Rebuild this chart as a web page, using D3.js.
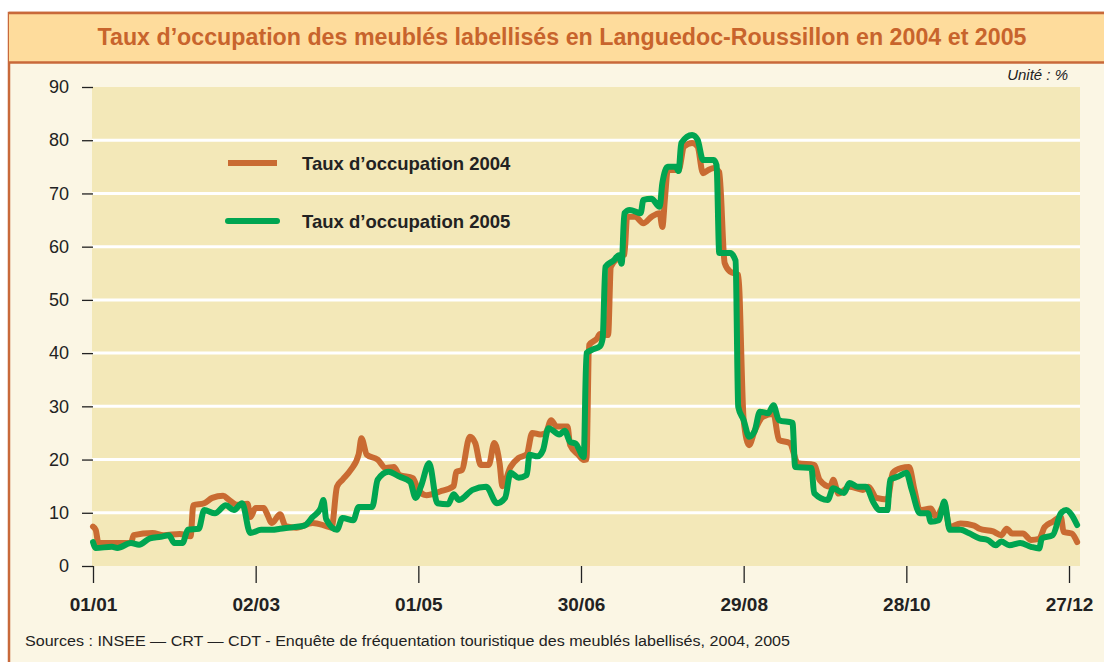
<!DOCTYPE html>
<html>
<head>
<meta charset="utf-8"/>
<title>Taux d'occupation</title>
<script src="https://cdn.jsdelivr.net/npm/d3@7"></script>
<style>
  body { margin:0; background:#fff; }
  svg text { font-family: "Liberation Sans", Arial, sans-serif; }
</style>
</head>
<body>
<div id="chart"></div>
<script>
// data (day of year -> %)
var days2004 = [0,1,2,8,14,15,22,26,32,36,37,41,44,48,50,53,57,58,60,63,64,66,69,71,75,81,86,88,90,92,95,98,99,101,105,108,111,113,118,120,123,128,133,134,136,139,141,143,146,148,150,151,154,157,160,162,165,167,169,171,175,176,179,181,182,183,186,187,190,191,194,196,197,200,203,206,209,210,211,212,216,218,221,223,225,227,229,231,233,235,238,240,242,244,247,251,253,257,260,266,268,272,273,275,279,284,286,289,293,295,298,301,303,305,309,311,314,316,320,325,327,332,335,337,339,343,346,349,351,354,357,358,361,363];
var vals2004 = [7.4,6.8,4.3,4.3,4.3,5.8,6.2,5.8,6.0,5.6,11.4,11.8,12.8,13.2,12.5,11.5,11.7,9.2,10.9,10.9,10.0,8.1,9.7,7.5,7.2,8.1,7.5,7.2,14.9,16.2,18.0,21,24,20.9,20,18.4,18.6,17.1,16.5,14.3,13.3,14,15,17.7,18,24.3,23.1,19,19,23.1,19.2,15,18.6,20.3,21,25,24.7,25,27.4,26.2,26.2,22.7,20.9,19.9,20.0,41.5,42.8,43.6,43.4,56.2,58,58.5,65.6,65.6,64.4,65.6,66.3,63.7,69.3,74.4,74.4,78.8,79.5,78.8,73.8,74.4,74.8,74,56.9,55.3,54.7,27.4,22.7,25.3,28,28.6,23.7,23.1,19.3,19,16.2,14.9,16.2,13.6,14.9,14.3,14.9,12.8,12.5,17.5,18.4,18.6,14.3,10.5,10.8,9.2,11.4,7.3,8,7.6,7,6.5,5.8,7,6.1,6.1,4.9,5.1,7.3,8.3,9.2,6.4,6.1,4.5];

var days2005 = [0,1,7,9,14,17,21,25,28,30,33,35,39,41,45,49,52,55,58,62,66,69,74,78,81,84,85,86,90,92,96,98,103,105,109,113,117,119,121,124,127,131,133,135,140,145,149,152,154,157,160,161,164,166,168,172,174,176,178,181,182,184,187,188,189,192,194,195,196,198,202,203,206,209,210,212,215,216,217,221,223,225,229,230,231,235,237,238,240,242,244,246,249,251,253,258,259,265,266,271,273,277,279,282,285,288,290,293,294,297,300,302,305,308,309,312,314,316,320,323,327,330,333,335,338,342,346,349,350,354,357,359,361,363];
var vals2005 = [4.5,3.4,3.6,3.4,4.3,4.0,5.2,5.5,5.8,4.3,4.3,6.8,7.0,10.5,9.9,11.4,10.5,11.8,6.2,6.8,6.8,7.0,7.3,7.6,9.2,10.9,12.4,8.8,6.8,9.0,8.6,11.1,11.1,16.2,17.7,16.8,15.8,12.8,15,19.3,11.8,11.6,13.5,12.4,14.3,14.9,11.8,12.8,17.5,16.6,17.1,20.9,20.6,21.8,25.9,24.7,25.4,23.3,23,20.5,40,40.6,41.3,42.8,56.2,57.4,58.4,56.8,66.3,66.9,66.3,68.8,69,67.5,71.9,75,75,74.2,79.5,81,80.1,76.3,76.3,75.3,58.8,58.8,57.4,29.9,27.4,24.3,25.3,29,28.7,30.2,27.4,26.9,18.6,18.4,13.7,12.4,14.6,13.7,15.6,14.9,14.9,11.8,10.5,10.5,16.2,16.8,17.5,14.3,9.9,9.9,8.3,8.6,12.1,6.8,6.8,6.2,5.2,4.9,3.9,4.6,3.9,4.3,3.6,3.3,5.2,5.8,9.9,10.5,9.6,7.7];

var tickDays = [0,60,120,180,240,300,360];
var tickLabels = ["01/01","02/03","01/05","30/06","29/08","28/10","27/12"];
var yTicks = [0,10,20,30,40,50,60,70,80,90];
var seriesNames = ["Taux d\u2019occupation 2004","Taux d\u2019occupation 2005"];
var seriesColors = ["#c96b32","#00a551"];

var W = 1104, H = 662;
var svg = d3.select("#chart").append("svg").attr("width", W).attr("height", H);

// frame
svg.append("rect").attr("x",9).attr("y",13).attr("width",1100).attr("height",660)
   .attr("fill","#fbf6e4").attr("stroke","#c8693a").attr("stroke-width",2.5);
svg.append("rect").attr("x",9).attr("y",13).attr("width",1100).attr("height",49)
   .attr("fill","#fedc9c");
svg.append("line").attr("x1",9).attr("x2",1104).attr("y1",62.5).attr("y2",62.5)
   .attr("stroke","#c8693a").attr("stroke-width",2.5);
svg.append("line").attr("x1",9).attr("x2",1104).attr("y1",13).attr("y2",13)
   .attr("stroke","#c8693a").attr("stroke-width",2.5);

svg.append("text").attr("x",562).attr("y",45).attr("text-anchor","middle")
   .attr("fill","#c8642c").style("font-size","23px").style("font-weight","bold")
   .style("font-family","'Liberation Sans Narrow', 'Arial Narrow', 'Liberation Sans', sans-serif")
   .attr("textLength",929).attr("lengthAdjust","spacingAndGlyphs")
   .text("Taux d\u2019occupation des meublés labellisés en Languedoc-Roussillon en 2004 et 2005");

var x = d3.scaleLinear().domain([0,360]).range([93,1069]);
var y = d3.scaleLinear().domain([0,90]).range([566,87]);

// plot background
svg.append("rect").attr("x",92).attr("y",y(90)).attr("width",1080-92).attr("height",y(0)-y(90))
   .attr("fill","#f3e8b8");

// gridlines
svg.selectAll(".grid").data(yTicks.filter(function(d){ return d>0 && d<90; }))
  .enter().append("line")
  .attr("x1",92).attr("x2",1080)
  .attr("y1",function(d){return y(d);}).attr("y2",function(d){return y(d);})
  .attr("stroke","#fff").attr("stroke-width",3);

// y axis
var yAxis = d3.axisLeft(y).tickValues(yTicks).tickSize(11).tickPadding(13);
var gy = svg.append("g").attr("transform","translate(93,0)").call(yAxis);
gy.select(".domain").remove();
gy.selectAll(".tick line").attr("stroke","#222").attr("stroke-width",1.3);
gy.selectAll(".tick text").attr("fill","#222").style("font-size","18px")
  .style("font-family","'Liberation Sans', Arial, sans-serif");

// x axis
var xAxis = d3.axisBottom(x).tickValues(tickDays)
  .tickFormat(function(d,i){ return tickLabels[i]; }).tickSize(17).tickPadding(15);
var gx = svg.append("g").attr("transform","translate(0,566)").call(xAxis);
gx.select(".domain").remove();
gx.selectAll(".tick line").attr("stroke","#222").attr("stroke-width",1.3);
gx.selectAll(".tick text").attr("fill","#222").style("font-size","19px").style("font-weight","bold")
  .style("font-family","'Liberation Sans', Arial, sans-serif");

// lines
var line = d3.line().x(function(d){return x(d[0]);}).y(function(d){return y(d[1]);})
  .curve(d3.curveMonotoneX);
var data2004 = days2004.map(function(d,i){ return [d, vals2004[i]]; });
var data2005 = days2005.map(function(d,i){ return [d, vals2005[i]]; });
[data2004, data2005].forEach(function(s,i){
  svg.append("path").datum(s).attr("d",line).attr("fill","none")
    .attr("stroke",seriesColors[i]).attr("stroke-width",6)
    .attr("stroke-linejoin","round").attr("stroke-linecap","round");
});

// legend
seriesNames.forEach(function(n,i){
  var ly = 163 + i*58;
  svg.append("line").attr("x1",228).attr("x2",277).attr("y1",ly).attr("y2",ly)
    .attr("stroke",seriesColors[i]).attr("stroke-width",6)
    .attr("stroke-linecap", i==1 ? "round" : "butt");
  svg.append("text").attr("x",302).attr("y",ly+7).attr("fill","#222")
    .style("font-size","18.5px").style("font-weight","bold").text(n);
});

svg.append("text").attr("x",1068).attr("y",80).attr("text-anchor","end")
  .attr("fill","#222").style("font-size","15px").style("font-style","italic").text("Unité : %");

svg.append("text").attr("x",25).attr("y",646).attr("fill","#222")
  .style("font-size","14px").attr("textLength",765).attr("lengthAdjust","spacingAndGlyphs")
  .text("Sources : INSEE \u2014 CRT \u2014 CDT - Enquête de fréquentation touristique des meublés labellisés, 2004, 2005");
</script>
</body>
</html>
